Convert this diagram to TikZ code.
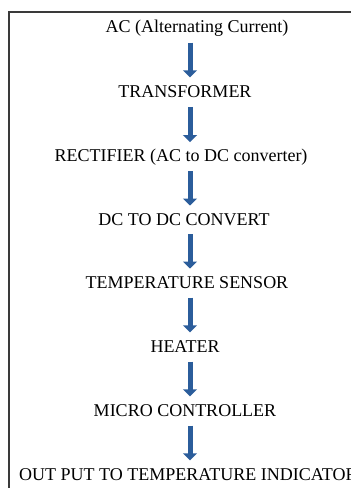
\documentclass[tikz,border=0pt]{standalone}
\usepackage{fontspec}
\setmainfont{Liberation Serif}
\usetikzlibrary{arrows.meta,calc}
\definecolor{arrblue}{HTML}{2B5D9B}
\definecolor{framegray}{HTML}{3A3A3A}
\begin{document}
\begin{tikzpicture}[x=1pt,y=-1pt,
  lbl/.style={inner sep=0pt, font=\fontsize{18}{20}\selectfont, anchor=center},
  arr/.style={draw=arrblue, line width=5pt, -{Triangle[length=7pt,width=14pt]}},
  frame/.style={draw=framegray, line width=2pt}]
\useasboundingbox (0,0) rectangle (351,488);
\coordinate (axis) at (190,0);
\coordinate (fbot) at (8.5,495);
\coordinate (fcorner) at (8.5,12);
\coordinate (fright) at (360,12);
\draw[frame] (fbot) -- (fcorner) -- (fright);
\node[lbl] (n1) at (197,28) {AC (Alternating Current)};
\node[lbl] (n2) at (185,92) {TRANSFORMER};
\node[lbl] (n3) at (181,157) {RECTIFIER (AC to DC converter)};
\node[lbl] (n4) at (184,220) {DC TO DC CONVERT};
\node[lbl] (n5) at (187,283) {TEMPERATURE SENSOR};
\node[lbl] (n6) at (185,347) {HEATER};
\node[lbl] (n7) at (185,411) {MICRO CONTROLLER};
\node[lbl,anchor=west] (n8) at (19,475) {OUT PUT TO TEMPERATURE INDICATOR};
\foreach \a/\b in {n1/n2,n2/n3,n3/n4,n4/n5,n5/n6,n6/n7,n7/n8}{
  \draw[arr] ($(\a.center -| axis)!0.23!(\b.center -| axis)$) -- ($(\a.center -| axis)!0.77!(\b.center -| axis)$);
}
\end{tikzpicture}
\end{document}
